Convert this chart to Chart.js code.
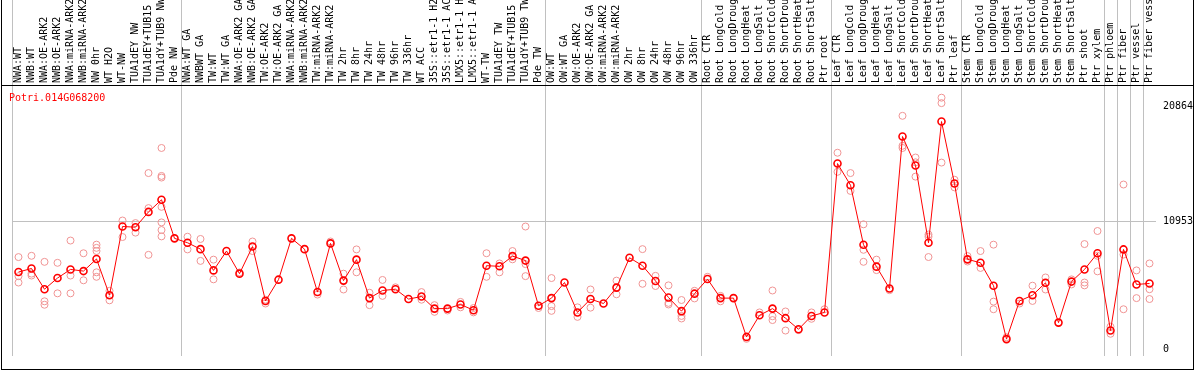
<!DOCTYPE html>
<html lang="en">
<head>
<meta charset="UTF-8">
<title>Potri.014G068200</title>
<script src="https://cdn.jsdelivr.net/npm/chart.js"></script>
<style>
  html, body { margin: 0; padding: 0; background: #fff; }
  .frame {
    position: absolute; left: 1px; top: 0;
    width: 1191px; height: 369px;
    border-left: 1px solid #000; border-right: 1px solid #000; border-bottom: 1px solid #000;
  }
  #expr { display: block; width: 1191px; height: 369px; }
</style>
</head>
<body>
<div class="frame"><canvas id="expr" width="1191" height="369"></canvas></div>
<script>
const geneName = 'Potri.014G068200';

const samples = [
  'NWA:WT', 'NWB:WT', 'NWA:OE-ARK2', 'NWB:OE-ARK2', 'NWA:miRNA-ARK2', 'NWB:miRNA-ARK2',
  'NW 0hr', 'WT H2O', 'WT-NW', 'TUA1dEY NW', 'TUA1dEY+TUB15 NW', 'TUA1dY+TUB9 NW', 'Pde NW',
  'NWA:WT GA', 'NWBWT GA', 'TW:WT', 'TW:WT GA', 'NWA:OE-ARK2 GA', 'NWB:OE-ARK2 GA',
  'TW:OE-ARK2', 'TW:OE-ARK2 GA', 'NWA:miRNA-ARK2 GA', 'NWB:miRNA-ARK2 GA', 'TW:miRNA-ARK2',
  'TW:miRNA-ARK2 GA', 'TW 2hr', 'TW 8hr', 'TW 24hr', 'TW 48hr', 'TW 96hr', 'TW 336hr',
  'WT ACC', '35S::etr1-1 H2O', '35S::etr1-1 ACC', 'LMX5::etr1-1 H2O', 'LMX5::etr1-1 ACC',
  'WT-TW', 'TUA1dEY TW', 'TUA1dEY+TUB15 TW', 'TUA1dY+TUB9 TW', 'Pde TW',
  'OW:WT', 'OW:WT GA', 'OW:OE-ARK2', 'OW:OE-ARK2 GA', 'OW:miRNA-ARK2', 'OW:miRNA-ARK2 GA',
  'OW 2hr', 'OW 8hr', 'OW 24hr', 'OW 48hr', 'OW 96hr', 'OW 336hr',
  'Root CTR', 'Root LongCold', 'Root LongDrought', 'Root LongHeat', 'Root LongSalt',
  'Root ShortCold', 'Root ShortDrought', 'Root ShortHeat', 'Root ShortSalt', 'Ptr root',
  'Leaf CTR', 'Leaf LongCold', 'Leaf LongDrought', 'Leaf LongHeat', 'Leaf LongSalt',
  'Leaf ShortCold', 'Leaf ShortDrought', 'Leaf ShortHeat', 'Leaf ShortSalt', 'Ptr leaf',
  'Stem CTR', 'Stem LongCold', 'Stem LongDrought', 'Stem LongHeat', 'Stem LongSalt',
  'Stem ShortCold', 'Stem ShortDrought', 'Stem ShortHeat', 'Stem ShortSalt',
  'Ptr shoot', 'Ptr xylem', 'Ptr phloem', 'Ptr fiber', 'Ptr vessel', 'Ptr fiber vessel'
];

// mean expression per sample
const meanExpr = [
  6636, 6939, 5161, 6119, 6857, 6717, 7758, 4645, 10543, 10486, 11796, 12837, 9527,
  9150, 8602, 6775, 8438, 6496, 8823, 4153, 5980, 9527, 8602, 4915, 9093, 5898, 7700,
  4396, 5051, 5161, 4314, 4533, 3495, 3495, 3850, 3359, 7180, 7127, 8000, 7619, 3741,
  4396, 5734, 3167, 4314, 3932, 5300, 7864, 7180, 5871, 4451, 3277, 4778,
  6034, 4396, 4396, 1065, 2922, 3495, 2675, 1720, 2867, 3167,
  15947, 14090, 8984, 7099, 5218, 18268, 15786, 9150, 19554, 14230,
  7725, 7430, 5464, 877, 4153, 4645, 5710, 2294, 5816,
  6857, 8249, 1614, 8577, 5571, 5652
];

// individual replicates per sample
const replicates = [
  [7919, 6280, 5734], [8028, 6499, 6335], [7509, 4122, 3827], [7427, 4806], [9339, 6335, 4806],
  [8247, 5926], [8987, 8712, 8438, 6611, 6226], [5024, 4204], [11059, 9639], [10838, 10019],
  [15131, 12124, 8110], [17285, 14886, 14746, 12231, 10895, 10240, 9694], [],
  [9667, 8577], [9475, 7591], [7700, 6007], [], [6600], [9257, 8438], [4260, 3932], [], [], [],
  [4700], [9257], [6496, 5136], [8577, 6611], [4858, 3793], [5956, 4588], [5325], [],
  [4915, 4260], [3793, 3219], [3334], [4071, 3604], [3547, 3170], [8249, 6226], [7373, 6611],
  [8438, 7725], [10543, 7316, 6283], [3547],
  [6119, 3711, 3301], [], [3604, 2785], [5136, 3578], [], [5898, 4725], [], [8602, 5625],
  [6308, 5434], [5489, 3986, 3850], [4233, 2867, 2648], [5024, 4369],
  [6226], [4588, 4123], [], [901], [3167], [5051, 2840, 2512], [3249, 1611], [1650],
  [3167, 2621], [3441],
  [16876, 15237], [15131, 13599], [10732, 8544, 7512], [7700, 6800], [5079],
  [20046, 17473, 17285], [16466, 16056, 14827], [9855, 9667, 7922], [21603, 21135, 16032],
  [14557, 13902],
  [8004, 7537], [8438, 6988], [8987, 4096, 3441], [1040], [3932], [5464, 4153], [6169, 5136],
  [], [6005, 5571],
  [9036, 5734, 5489], [10158, 8028, 6693], [1941, 1335], [14148, 8135, 3441], [6775, 4396],
  [7373, 5161, 4317]
];

const yTicks = [0, 10953, 20864];
// grid line index (between samples) where a group ends
const groupEnds = [0, 13, 41, 53, 63, 73, 84, 85, 86, 87, 88];

const repPoints = [];
replicates.forEach((vals, i) => {
  vals.forEach(v => repPoints.push({ x: samples[i], y: v }));
});

const gridGray = '#c0c0c0';
const monoFont = { family: 'DejaVu Sans Mono', size: 10 };

const frameLines = {
  id: 'frameLines',
  afterDraw(chart) {
    const { ctx, chartArea } = chart;
    ctx.save();
    ctx.strokeStyle = '#000';
    ctx.lineWidth = 1;
    ctx.beginPath();
    ctx.moveTo(0, chartArea.top + 0.5);
    ctx.lineTo(chart.width, chartArea.top + 0.5);
    ctx.stroke();
    ctx.fillStyle = '#ff0000';
    ctx.font = '10px "DejaVu Sans Mono"';
    ctx.textBaseline = 'alphabetic';
    ctx.fillText(geneName, chartArea.left - 3, chartArea.top + 16);
    ctx.restore();
  }
};

new Chart(document.getElementById('expr'), {
  type: 'line',
  data: {
    labels: samples,
    datasets: [
      {
        label: geneName,
        data: meanExpr,
        borderColor: '#ff0000',
        borderWidth: 1,
        tension: 0,
        pointRadius: 3.5,
        pointBorderWidth: 1.6,
        pointBorderColor: '#ff0000',
        pointBackgroundColor: 'rgba(0,0,0,0)'
      },
      {
        label: 'replicates',
        data: repPoints,
        showLine: false,
        pointRadius: 3.5,
        pointBorderWidth: 1,
        pointBorderColor: '#f09494',
        pointBackgroundColor: 'rgba(0,0,0,0)'
      }
    ]
  },
  options: {
    responsive: false,
    animation: false,
    layout: { padding: { left: 10, right: 0, top: 0, bottom: 0 } },
    plugins: {
      legend: { display: false },
      tooltip: { enabled: false }
    },
    scales: {
      x: {
        position: 'top',
        offset: true,
        afterFit: s => { s.height = 85; },
        border: { display: false },
        grid: {
          offset: true,
          tickLength: 85,
          lineWidth: 1,
          color: ctx => groupEnds.includes(ctx.index) ? gridGray : 'rgba(0,0,0,0)'
        },
        ticks: {
          autoSkip: false,
          minRotation: 90,
          maxRotation: 90,
          padding: -83,
          labelOffset: 12,
          color: '#000',
          font: monoFont
        }
      },
      y: {
        position: 'right',
        min: -573,
        max: 22692,
        afterBuildTicks: s => { s.ticks = yTicks.map(v => ({ value: v })); },
        afterFit: s => { s.width = 37; },
        border: { display: false },
        grid: {
          drawTicks: false,
          color: ctx => (ctx.tick && ctx.tick.value === yTicks[1]) ? gridGray : 'rgba(0,0,0,0)'
        },
        ticks: {
          padding: 7,
          color: '#000',
          font: monoFont,
          callback: v => String(v)
        }
      }
    }
  },
  plugins: [frameLines]
});
</script>
</body>
</html>
